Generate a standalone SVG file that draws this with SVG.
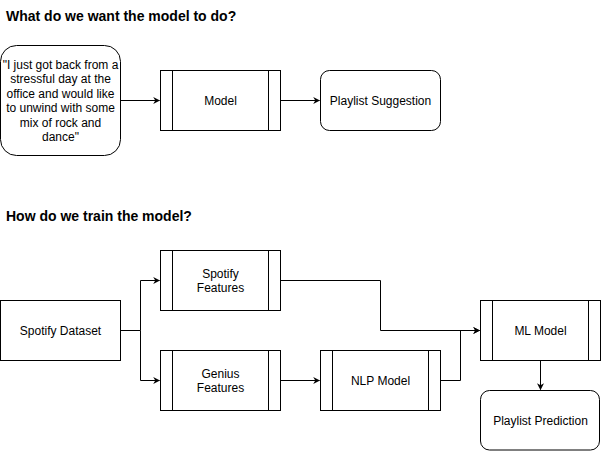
<svg xmlns="http://www.w3.org/2000/svg" width="601" height="451" viewBox="0 0 601 451">
<style>
.box{fill:#fff;stroke:#000;stroke-width:1}
.ln{fill:none;stroke:#000;stroke-width:1}
.t{font-family:"Liberation Sans",Arial,sans-serif;font-size:12px;fill:#000;text-anchor:middle}
.h{font-family:"Liberation Sans",Arial,sans-serif;font-size:14px;font-weight:bold;fill:#000}
</style>
<defs>
<marker id="a" viewBox="0 0 10 10" refX="9" refY="5" markerWidth="7" markerHeight="7" markerUnits="userSpaceOnUse" orient="auto">
<path d="M0,0 L10,5 L0,10 L3,5 Z" fill="#000"/>
</marker>
</defs>
<rect width="601" height="451" fill="#fff"/>
<text class="h" x="6" y="20.5">What do we want the model to do?</text>
<text class="h" x="6" y="220.5">How do we train the model?</text>
<g id="connectors">
<path class="ln" d="M120.5,100.5 H159.5" marker-end="url(#a)"/>
<path class="ln" d="M280.5,100.5 H319.5" marker-end="url(#a)"/>
<path class="ln" d="M120.5,330.5 H140.5 V280.5 H159.5" marker-end="url(#a)"/>
<path class="ln" d="M140.5,330.5 V380.5 H159.5" marker-end="url(#a)"/>
<path class="ln" d="M280.5,380.5 H319.5" marker-end="url(#a)"/>
<path class="ln" d="M280.5,280.5 H380.5 V330.5 H479.5" marker-end="url(#a)"/>
<path class="ln" d="M440.5,380.5 H460.5 V330.5 H479.5" marker-end="url(#a)"/>
<path class="ln" d="M540.5,360.5 V389.5" marker-end="url(#a)"/>
</g>
<g id="quote">
<rect class="box" x="0.5" y="45.5" width="120" height="110" rx="16"/>
<text class="t" x="60.5" y="69">"I just got back from a</text>
<text class="t" x="60.5" y="83.4">stressful day at the</text>
<text class="t" x="60.5" y="97.8">office and would like</text>
<text class="t" x="60.5" y="112.2">to unwind with some</text>
<text class="t" x="60.5" y="126.6">mix of rock and</text>
<text class="t" x="60.5" y="141">dance"</text>
</g>
<g id="model">
<rect class="box" x="160.5" y="70.5" width="120" height="60"/>
<path class="ln" d="M172.5,70.5 V130.5 M268.5,70.5 V130.5"/>
<text class="t" x="220.5" y="104.5">Model</text>
</g>
<g id="playlist-suggestion">
<rect class="box" x="320.5" y="70.5" width="120" height="60" rx="9"/>
<text class="t" x="380.5" y="104.5">Playlist Suggestion</text>
</g>
<g id="spotify-dataset">
<rect class="box" x="0.5" y="300.5" width="120" height="60"/>
<text class="t" x="60.5" y="334.5">Spotify Dataset</text>
</g>
<g id="spotify-features">
<rect class="box" x="160.5" y="250.5" width="120" height="60"/>
<path class="ln" d="M172.5,250.5 V310.5 M268.5,250.5 V310.5"/>
<text class="t" x="220.5" y="277.5">Spotify</text>
<text class="t" x="220.5" y="291.9">Features</text>
</g>
<g id="genius-features">
<rect class="box" x="160.5" y="350.5" width="120" height="60"/>
<path class="ln" d="M172.5,350.5 V410.5 M268.5,350.5 V410.5"/>
<text class="t" x="220.5" y="377.5">Genius</text>
<text class="t" x="220.5" y="391.9">Features</text>
</g>
<g id="nlp-model">
<rect class="box" x="320.5" y="350.5" width="120" height="60"/>
<path class="ln" d="M332.5,350.5 V410.5 M428.5,350.5 V410.5"/>
<text class="t" x="380.5" y="384.5">NLP Model</text>
</g>
<g id="ml-model">
<rect class="box" x="480.5" y="300.5" width="120" height="60"/>
<path class="ln" d="M492.5,300.5 V360.5 M588.5,300.5 V360.5"/>
<text class="t" x="540.5" y="334.5">ML Model</text>
</g>
<g id="playlist-prediction">
<rect class="box" x="480.5" y="390.5" width="119" height="59.5" rx="9"/>
<text class="t" x="540.5" y="424.5">Playlist Prediction</text>
</g>
</svg>
